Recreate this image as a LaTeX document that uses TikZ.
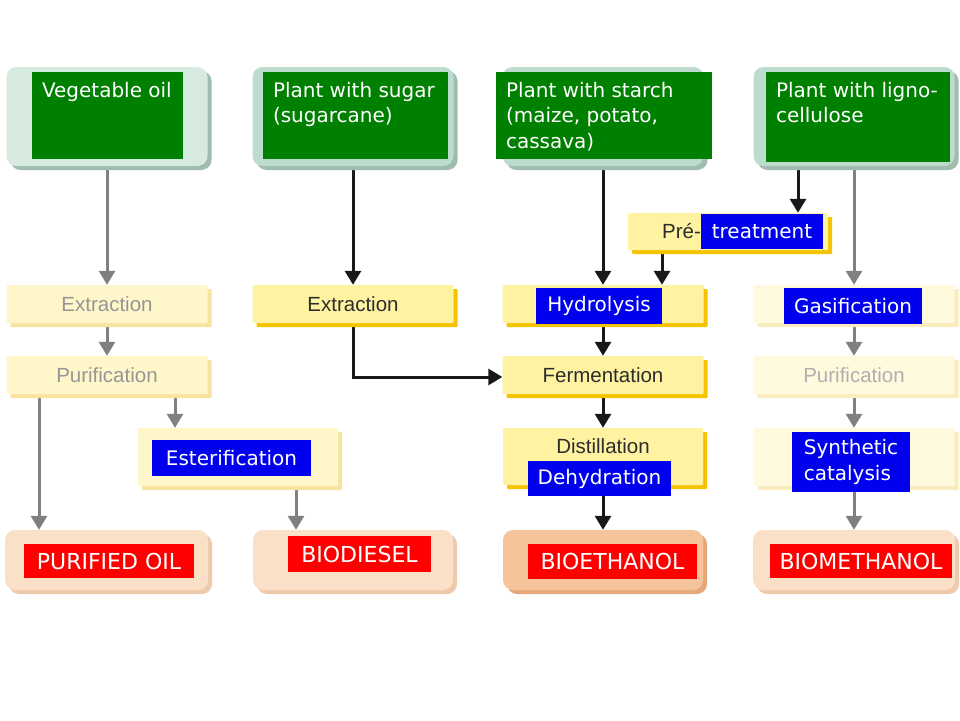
\documentclass[tikz,border=0pt]{standalone}
\usepackage{fontspec}
\setmainfont{Liberation Sans}
\newfontfamily\cfont{DejaVu Sans}
\usetikzlibrary{arrows.meta,shadows,backgrounds}
\definecolor{grn}{RGB}{0,128,0}
\definecolor{blu}{RGB}{0,0,238}
\definecolor{rd}{RGB}{255,0,0}
\definecolor{mintA}{RGB}{214,234,224}
\definecolor{mintB}{RGB}{188,221,205}
\definecolor{mintS}{RGB}{160,188,174}
\definecolor{yV}{RGB}{255,242,160}
\definecolor{yVs}{RGB}{245,196,0}
\definecolor{yF}{RGB}{255,247,202}
\definecolor{yFs}{RGB}{248,226,160}
\definecolor{yFF}{RGB}{255,250,222}
\definecolor{yFFs}{RGB}{250,236,190}
\definecolor{pch}{RGB}{251,224,200}
\definecolor{pchs}{RGB}{238,202,172}
\definecolor{pchD}{RGB}{246,196,154}
\definecolor{pchDs}{RGB}{228,168,122}
\definecolor{txtD}{RGB}{45,45,45}
\definecolor{txtG}{RGB}{150,150,150}
\definecolor{txtL}{RGB}{175,175,175}
\definecolor{arrG}{RGB}{128,128,128}
\definecolor{arrB}{RGB}{25,25,25}
\tikzset{
  box/.style={inner sep=0pt, minimum width=201pt},
  topbox/.style={box, rounded corners=10pt, minimum height=99pt, fill=#1,
     drop shadow={shadow xshift=4pt, shadow yshift=-4pt, fill=mintS, opacity=1}},
  botbox/.style 2 args={box, rounded corners=10pt, minimum height=60pt, fill=#1,
     drop shadow={shadow xshift=4pt, shadow yshift=-4pt, fill=#2, opacity=1}},
  ybox/.style 2 args={box, rounded corners=1pt, minimum height=38pt, fill=#1,
     drop shadow={shadow xshift=4pt, shadow yshift=-4pt, fill=#2, opacity=1},
     font=\fontsize{20.5}{24}\selectfont},
  greenlab/.style={fill=grn, inner sep=0pt},
  gtext/.style={anchor=north west, inner sep=0pt, align=left, text=white,
     font=\cfont\fontsize{20}{25.5}\selectfont},
  bluelab/.style={fill=blu, inner sep=0pt, text=white,
     font=\cfont\fontsize{20}{25.5}\selectfont},
  redlab/.style={fill=rd, inner sep=0pt, text=white,
     font=\cfont\fontsize{22}{26}\selectfont},
  garr/.style={draw=arrG, line width=3pt, -{Triangle[width=16pt,length=14pt]}, color=arrG},
  barr/.style={draw=arrB, line width=3pt, -{Triangle[width=16pt,length=14pt]}, color=arrB},
}
\begin{document}
\begin{tikzpicture}[x=1pt,y=-1pt]
\useasboundingbox (0,0) rectangle (960,720);
% top boxes
\node[topbox=mintA] (t1) at (107,116.5) {};
\node[topbox=mintB] (t2) at (353,116.5) {};
\node[topbox=mintB] (t3) at (603,116.5) {};
\node[topbox=mintB] (t4) at (854,116.5) {};
\node[greenlab, minimum width=151pt, minimum height=87pt] (g1) at (107.5,115.5) {};
\node[greenlab, minimum width=185pt, minimum height=87pt] (g2) at (355.5,115.5) {};
\node[greenlab, minimum width=216pt, minimum height=87pt] (g3) at (604,115.5) {};
\node[greenlab, minimum width=184pt, minimum height=90pt] (g4) at (858,117) {};
\node[gtext] (g1t) at ([xshift=10pt,yshift=-10pt]g1.north west) {Vegetable oil};
\node[gtext] (g2t) at ([xshift=10pt,yshift=-10pt]g2.north west) {Plant with sugar\\(sugarcane)};
\node[gtext] (g3t) at ([xshift=10pt,yshift=-10pt]g3.north west) {Plant with starch\\(maize, potato,\\cassava)};
\node[gtext] (g4t) at ([xshift=10pt,yshift=-10pt]g4.north west) {Plant with ligno-\\cellulose};
% pre-treatment
\node[ybox={yV}{yVs}, minimum width=200pt, minimum height=37pt] (p) at (728,231.5) {};
\node[anchor=west, inner sep=0pt, text=txtD, font=\fontsize{20.5}{24}\selectfont] (pt) at (662,231) {Pré-};
\node[bluelab, minimum width=122pt, minimum height=35pt] (bt) at (762,231.5) {treatment};
% row 1
\node[ybox={yF}{yFs}, text=txtG] (e1) at (107,304) {Extraction};
\node[ybox={yV}{yVs}, text=txtD] (e2) at (353,304) {Extraction};
\node[ybox={yV}{yVs}] (h3) at (603,304) {};
\node[ybox={yFF}{yFFs}] (ga4) at (854,304) {};
\node[bluelab, minimum width=126pt, minimum height=36pt] (bh) at (599,306) {Hydrolysis};
\node[bluelab, minimum width=138pt, minimum height=36pt] (bg) at (853,306) {Gasification};
% row 2
\node[ybox={yF}{yFs}, text=txtG] (pu1) at (107,375) {Purification};
\node[ybox={yV}{yVs}, text=txtD] (f3) at (603,375) {Fermentation};
\node[ybox={yFF}{yFFs}, text=txtL] (pu4) at (854,375) {Purification};
% row 3
\node[ybox={yF}{yFs}, minimum width=200pt, minimum height=58pt] (es) at (238,457) {};
\node[ybox={yV}{yVs}, minimum width=200pt, minimum height=57pt] (d3) at (603,456.5) {};
\node[ybox={yFF}{yFFs}, minimum height=58pt] (s4) at (854,457) {};
\node[inner sep=0pt, text=txtD, font=\fontsize{20.5}{24}\selectfont] (d3t) at (603,446) {Distillation};
\node[bluelab, minimum width=159pt, minimum height=36pt] (be) at (231.5,458) {Esterification};
\node[bluelab, minimum width=143pt, minimum height=35pt] (bd) at (599.5,478.5) {Dehydration};
\node[bluelab, minimum width=118pt, minimum height=60pt, align=left] (bs) at (851,462) {Synthetic\\catalysis};
% bottom
\node[botbox={pch}{pchs}, minimum width=203pt] (b1) at (106.5,560) {};
\node[botbox={pch}{pchs}, minimum width=200pt] (b2) at (353,560) {};
\node[botbox={pchD}{pchDs}, minimum width=200pt] (b3) at (603,560) {};
\node[botbox={pch}{pchs}, minimum width=202pt] (b4) at (854,560) {};
\node[redlab, minimum width=170pt, minimum height=34pt] (r1) at (109,561) {PURIFIED OIL};
\node[redlab, minimum width=143pt, minimum height=36pt] (r2) at (359.5,554) {BIODIESEL};
\node[redlab, minimum width=169pt, minimum height=35pt] (r3) at (612.5,561.5) {BIOETHANOL};
\node[redlab, minimum width=182pt, minimum height=34pt] (r4) at (861,561) {BIOMETHANOL};
% connectors
\begin{scope}[on background layer]
\draw[garr] (t1.south) -- (t1.south |- e1.north);
\draw[barr] (t2.south) -- (t2.south |- e2.north);
\draw[barr] (t3.south) -- (t3.south |- h3.north);
\draw[barr] ([xshift=-56pt]t4.south) -- ([xshift=-56pt]t4.south |- p.north);
\draw[garr] (t4.south) -- (t4.south |- ga4.north);
\draw[barr] ([xshift=-66pt]p.south) -- ([xshift=-66pt]p.south |- h3.north);
\draw[garr] (e1.south) -- (e1.south |- pu1.north);
\draw[barr] (h3.south) -- (h3.south |- f3.north);
\draw[garr] (ga4.south) -- (ga4.south |- pu4.north);
\draw[barr] (e2.south) |- ([yshift=-2pt]f3.west);
\draw[garr] ([xshift=68pt]pu1.south) -- ([xshift=68pt]pu1.south |- es.north);
\draw[garr] ([xshift=-68pt]pu1.south) -- ([xshift=-68pt]pu1.south |- b1.north);
\draw[barr] (f3.south) -- (f3.south |- d3.north);
\draw[garr] (pu4.south) -- (pu4.south |- s4.north);
\draw[garr] ([xshift=58pt]es.south) -- ([xshift=58pt]es.south |- b2.north);
\draw[barr] (d3.south |- bd.south) -- (d3.south |- b3.north);
\draw[garr] (s4.south |- bs.south) -- (s4.south |- b4.north);
\end{scope}
\end{tikzpicture}
\end{document}
